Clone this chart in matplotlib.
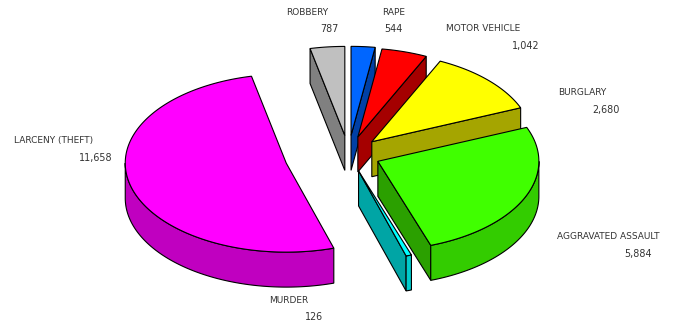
import numpy as np
import matplotlib
matplotlib.use('Agg')
import matplotlib.pyplot as plt

# clockwise from 12 o'clock
categories = ['RAPE', 'MOTOR VEHICLE', 'BURGLARY', 'AGGRAVATED ASSAULT', 'MURDER', 'LARCENY (THEFT)', 'ROBBERY']
values = [544, 1042, 2680, 5884, 126, 11658, 787]

explode = [0.21, 0.2, 0.2, 0.2, 0.2, 0.4, 0.21]
top_colors = ['#0066ff', '#ff0000', '#ffff00', '#40ff00', '#00ffff', '#ff00ff', '#c0c0c0']
arc_colors = ['#0050cc', '#cc0000', '#cccc00', '#33cc00', '#00cccc', '#c000c0', '#999999']
edge_colors = ['#0040a5', '#a50000', '#a5a500', '#2ba000', '#00a5a5', '#a000a0', '#808080']
draw_order = [6, 0, 1, 2, 5, 4, 3]

# label left edge / value right edge / y of label line
label_x = [286 + 96, 446, 558, 557, 269, 14, 286]
value_x = [403, 539, 620, 652, 323, 113, 339]
label_y = [12.5, 28.5, 92.5, 236.5, 300.5, 140.5, 12.5]

CX, CY = 348.5, 154
RX, RY = 161, 89
DEPTH = 35


def ellipse_pts(cx, cy, t):
    return cx + RX * np.sin(t), cy - RY * np.cos(t)


def draw_slice(ax, i, start, end):
    mid = (start + end) / 2
    cx = CX + explode[i] * RX * np.sin(mid)
    cy = CY - explode[i] * RY * np.cos(mid)
    # radial faces
    for t, visible in ((start, np.sin(start) < -1e-6), (end, np.sin(end) > 1e-6)):
        if visible:
            x, y = ellipse_pts(cx, cy, t)
            ax.fill([cx, x, x, cx], [cy, y, y + DEPTH, cy + DEPTH],
                    facecolor=edge_colors[i], edgecolor='black', lw=0.8)
    # outer wall, front half only
    a, b = max(start, np.pi / 2), min(end, 3 * np.pi / 2)
    if b > a:
        t = np.linspace(a, b, 120)
        x, y = ellipse_pts(cx, cy, t)
        ax.fill(np.r_[x, x[::-1]], np.r_[y, y[::-1] + DEPTH],
                facecolor=arc_colors[i], edgecolor='black', lw=0.8)
    # top
    t = np.linspace(start, end, 200)
    x, y = ellipse_pts(cx, cy, t)
    ax.fill(np.r_[cx, x], np.r_[cy, y], facecolor=top_colors[i], edgecolor='black', lw=0.8)


fig = plt.figure(figsize=(6.73, 3.23), dpi=100)
ax = fig.add_axes([0, 0, 1, 1])
ax.set_xlim(0, 673)
ax.set_ylim(323, 0)
ax.axis('off')

angles = np.r_[0, np.cumsum(values)] / sum(values) * 2 * np.pi
for i in draw_order:
    draw_slice(ax, i, angles[i], angles[i + 1])

for i, name in enumerate(categories):
    ax.text(label_x[i], label_y[i], name, fontsize=6.5, color='#333333', ha='left', va='center')
    ax.text(value_x[i], label_y[i] + 17, f'{values[i]:,}', fontsize=6.9, color='#333333', ha='right', va='center')

fig.savefig('out.png', dpi=100)
